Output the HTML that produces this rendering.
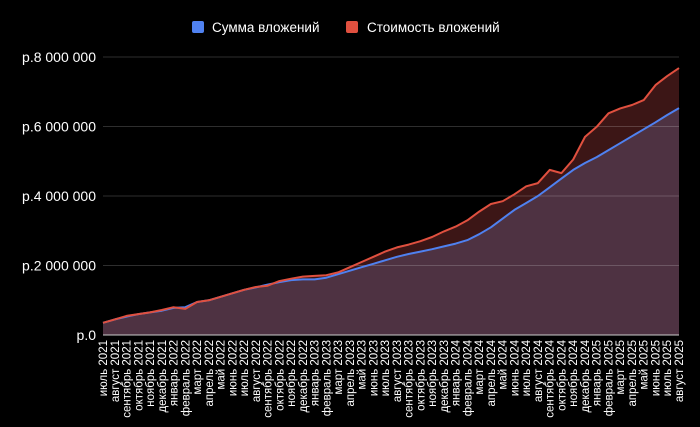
<!DOCTYPE html>
<html><head><meta charset="utf-8"><style>
html,body{margin:0;padding:0;background:#000;width:700px;height:427px;overflow:hidden}
svg{display:block}
text{font-family:"Liberation Sans",Arial,sans-serif;fill:#fff}
</style></head><body>
<svg id="s" width="700" height="427" xmlns="http://www.w3.org/2000/svg">
<rect x="192" y="21" width="12" height="12" rx="2" fill="#4f81f0"/>
<text x="212" y="32" font-size="13.5">Сумма вложений</text>
<rect x="346" y="21" width="12" height="12" rx="2" fill="#e0503f"/>
<text x="367" y="32" font-size="13.5">Стоимость вложений</text>
</svg>
<script>
const s=document.getElementById('s'),NS='http://www.w3.org/2000/svg';
function el(t,a,txt){const e=document.createElementNS(NS,t);for(const k in a)e.setAttribute(k,a[k]);if(txt!=null)e.textContent=txt;s.appendChild(e);return e;}
const x0=103,x1=679,yb=335,yt=57;
const Y=v=>yb-(v/8)*(yb-yt);
const X=i=>x0+i*(x1-x0)/49;
const red=[0.35,0.45,0.55,0.6,0.65,0.72,0.8,0.75,0.95,1.0,1.1,1.2,1.3,1.38,1.42,1.55,1.62,1.68,1.7,1.72,1.8,1.95,2.1,2.25,2.4,2.52,2.6,2.7,2.82,2.98,3.12,3.3,3.55,3.77,3.85,4.05,4.28,4.37,4.75,4.66,5.05,5.7,5.99,6.38,6.52,6.62,6.76,7.19,7.45,7.68];
const blue=[0.35,0.45,0.53,0.6,0.65,0.7,0.78,0.8,0.95,1.0,1.1,1.2,1.3,1.37,1.45,1.52,1.58,1.6,1.6,1.65,1.75,1.85,1.95,2.05,2.15,2.25,2.33,2.4,2.47,2.55,2.63,2.73,2.9,3.1,3.35,3.6,3.8,4.0,4.25,4.5,4.75,4.95,5.12,5.32,5.52,5.72,5.92,6.12,6.33,6.53];
const pts=a=>a.map((v,i)=>X(i).toFixed(1)+','+Y(v).toFixed(1)).join(' ');
el('polygon',{points:x0+','+yb+' '+pts(red)+' '+x1+','+yb,fill:'#3c1616'});
el('polygon',{points:x0+','+yb+' '+pts(blue)+' '+x1+','+yb,fill:'#4e3242'});
[[8,'р.8 000 000'],[6,'р.6 000 000'],[4,'р.4 000 000'],[2,'р.2 000 000'],[0,'р.0']].forEach(([v,l])=>{
 if(v>0)el('line',{x1:x0,x2:x1,y1:Y(v),y2:Y(v),stroke:'rgba(255,255,255,0.18)','stroke-width':1});
 el('text',{x:96,y:Y(v)+5,'font-size':14,'text-anchor':'end'},l);
});
el('polyline',{points:pts(blue),fill:'none',stroke:'#4f81f0','stroke-width':2,'stroke-linejoin':'round'});
el('polyline',{points:pts(red),fill:'none',stroke:'#e0503f','stroke-width':2,'stroke-linejoin':'round'});
el('line',{x1:x0,x2:x1,y1:yb,y2:yb,stroke:'#ccc','stroke-width':1});
const m=['июль','август','сентябрь','октябрь','ноябрь','декабрь','январь','февраль','март','апрель','май','июнь'];
for(let i=0;i<50;i++){const mi=i%12,yr=2021+Math.floor((6+i)/12);
 el('text',{x:0,y:0,'font-size':11.5,'text-anchor':'end',transform:`translate(${(X(i)+4).toFixed(1)},340) rotate(-90)`},m[mi]+' '+yr);}
</script>
</body></html>
